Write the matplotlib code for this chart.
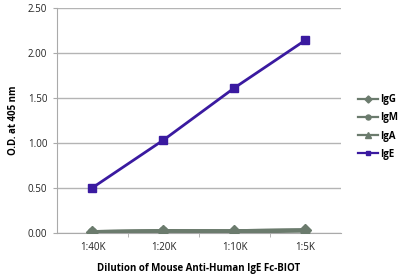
import numpy as np
import matplotlib
matplotlib.use("Agg")
import matplotlib.pyplot as plt

# data
dilutions = ["1:40K", "1:20K", "1:10K", "1:5K"]
igg = [0.01, 0.02, 0.02, 0.03]
igm = [0.01, 0.02, 0.01, 0.02]
iga = [0.01, 0.02, 0.02, 0.03]
ige = [0.50, 1.03, 1.61, 2.14]

plt.rcParams['font.family'] = ['Open Sans', 'DejaVu Sans']

fig = plt.figure(figsize=(4.0, 2.74), dpi=100)
ax = fig.add_axes([57/400, 1-232.7/274, 284/400, 225/274])

x = np.arange(len(dilutions))
grey = "#6b7b6d"
ax.plot(x, igg, color=grey, lw=2.5, marker="D", ms=6, label="IgG", zorder=3)
ax.plot(x, igm, color=grey, lw=2.5, marker="o", ms=6, label="IgM", zorder=3)
ax.plot(x, iga, color=grey, lw=2.5, marker="^", ms=7, label="IgA", zorder=3)
ax.plot(x, ige, color="#3a1aa0", lw=2, marker="s", ms=5.5, label="IgE", zorder=4)

ax.set_xlim(-0.5, 3.5)
ax.set_ylim(0, 2.5)
ax.set_yticks([0, 0.5, 1.0, 1.5, 2.0, 2.5])
ax.set_yticklabels(["%.2f" % v for v in [0, 0.5, 1.0, 1.5, 2.0, 2.5]], fontsize=7, color="#222222")
ax.set_xticks(x)
ax.set_xticklabels(dilutions, fontsize=7, color="#222222")
ax.set_xticks([0.5, 1.5, 2.5], minor=True)
ax.tick_params(axis="x", which="major", length=0, pad=7)
ax.tick_params(axis="x", which="minor", length=3, color="#aaaaaa")
ax.tick_params(axis="y", length=3, color="#aaaaaa", pad=4)

ax.grid(axis="y", color="#b4b4b4", lw=1)
ax.set_axisbelow(True)
for s in ["top", "right"]:
    ax.spines[s].set_visible(False)
for s in ["left", "bottom"]:
    ax.spines[s].set_color("#aaaaaa")

ax.set_ylabel("O.D. at 405 nm", fontsize=7, fontweight="bold", labelpad=6)
ax.set_xlabel("Dilution of Mouse Anti-Human IgE Fc-BIOT", fontsize=7, fontweight="bold", labelpad=7)

leg = ax.legend(loc="center left", bbox_to_anchor=(1.03, 0.47), frameon=False,
                handlelength=2.0, handletextpad=0.2, labelspacing=0.75, markerscale=0.6,
                prop={"weight": "bold", "size": 7})
for h in leg.get_lines():
    h.set_linewidth(1.6)

fig.savefig("out.png", dpi=100)
